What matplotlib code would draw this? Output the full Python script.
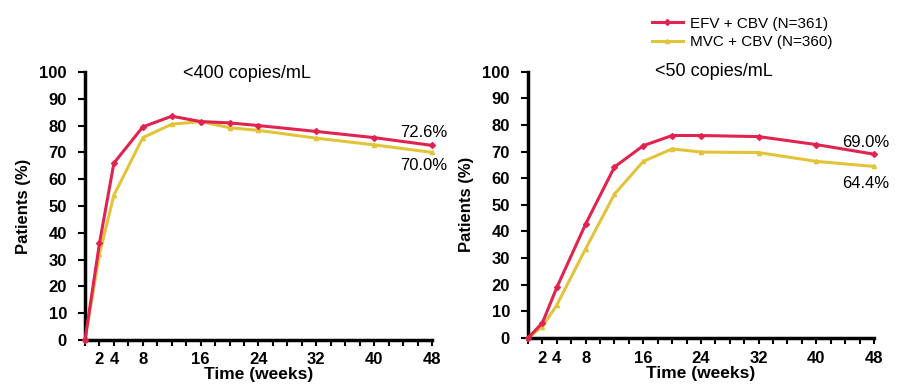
import matplotlib.pyplot as plt
from matplotlib.ticker import MultipleLocator

plt.rcParams['font.family'] = ['Liberation Sans', 'DejaVu Sans']

# weeks at which patients were assessed
weeks = [0, 2, 4, 8, 12, 16, 20, 24, 32, 40, 48]

# <400 copies/mL
efv_400 = [0, 36, 66, 79.5, 83.5, 81.5, 81, 80, 77.8, 75.5, 72.6]
mvc_400 = [0, 32, 54, 75.5, 80.5, 81.5, 79.2, 78.2, 75.3, 72.8, 70.0]

# <50 copies/mL
efv_50 = [0, 5.7, 19, 42.8, 64.2, 72.2, 76, 76, 75.6, 72.6, 69.0]
mvc_50 = [0, 4.3, 12.4, 33.5, 54, 66.3, 71, 69.8, 69.6, 66.3, 64.4]

red = '#e0234f'
yellow = '#e2c43a'

fig = plt.figure(figsize=(9.01, 3.89), dpi=100)
ax1 = fig.add_axes([0.0943, 0.126, 0.3852, 0.689])
ax2 = fig.add_axes([0.586, 0.131, 0.384, 0.685])


def style_axis(ax, efv, mvc, lab_efv, lab_mvc, y_efv, y_mvc):
    ax.plot(weeks, efv, color=red, lw=2.2, marker='D', ms=3, zorder=3,
            label='EFV + CBV (N=361)', clip_on=False)
    ax.plot(weeks, mvc, color=yellow, lw=2.2, marker='^', ms=3, zorder=2,
            label='MVC + CBV (N=360)', clip_on=False)
    ax.set_xlim(0, 48)
    ax.set_ylim(0, 100)
    ax.set_xticks([2, 4, 8, 16, 24, 32, 40, 48])
    ax.set_xticklabels(['2', '4', '8', '16', '24', '32', '40', '48'])
    ax.xaxis.set_minor_locator(MultipleLocator(2))
    ax.set_yticks(range(0, 101, 10))
    for s in ['top', 'right']:
        ax.spines[s].set_visible(False)
    ax.spines['left'].set_linewidth(2.5)
    ax.spines['bottom'].set_linewidth(2.5)
    ax.tick_params(axis='x', which='major', length=4, width=1.5,
                   labelsize=12, pad=5)
    ax.tick_params(axis='x', which='minor', length=4, width=1.5)
    ax.tick_params(axis='y', length=5, width=1.5, labelsize=12, pad=8)
    for t in ax.get_xticklabels() + ax.get_yticklabels():
        t.set_fontweight('bold')
    ax.set_xlabel('Time (weeks)', fontsize=12.5, fontweight='bold', labelpad=0)
    ax.set_ylabel('Patients (%)', fontsize=12, fontweight='bold', labelpad=6)
    ax.text(1.045, y_efv, lab_efv, transform=ax.transAxes, ha='right',
            va='center', fontsize=12)
    ax.text(1.045, y_mvc, lab_mvc, transform=ax.transAxes, ha='right',
            va='center', fontsize=12)


style_axis(ax1, efv_400, mvc_400, '72.6%', '70.0%', 0.775, 0.65)
style_axis(ax2, efv_50, mvc_50, '69.0%', '64.4%', 0.735, 0.58)

fig.text(247 / 901, 1 - 74 / 389, '<400 copies/mL', ha='center', va='center',
         fontsize=13)
fig.text(714 / 901, 1 - 71 / 389, '<50 copies/mL', ha='center', va='center',
         fontsize=13)

handles, labels = ax1.get_legend_handles_labels()
fig.legend(handles, labels, loc='upper left', bbox_to_anchor=(0.712, 0.985),
           frameon=False, fontsize=11, handlelength=2.0, handletextpad=0.5,
           labelspacing=0.3, borderaxespad=0.3)

fig.savefig('out.png', dpi=100)
